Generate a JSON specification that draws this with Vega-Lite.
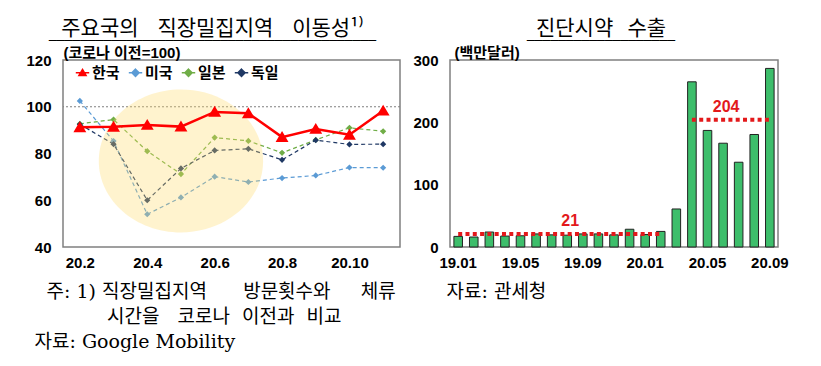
{
  "$schema": "https://vega.github.io/schema/vega-lite/v6.json",
  "background": "white",
  "padding": {"left": 25, "top": 17, "right": 5, "bottom": 5},
  "bounds": "flush",
  "spacing": 50,
  "config": {
    "font": "Liberation Sans, Noto Sans CJK KR",
    "view": {"stroke": "#808080", "strokeWidth": 1.5},
    "axis": {"grid": false, "ticks": false, "domain": false, "labelFont": "Liberation Sans, Noto Sans CJK KR", "labelFontSize": 15, "labelFontWeight": "bold", "labelColor": "#000000", "titleColor": "#000000"},
    "axisX": {"labelPadding": 8, "labelAngle": 0},
    "axisY": {"labelPadding": 12},
    "title": {"font": "Noto Sans CJK KR", "fontSize": 21, "fontWeight": "normal", "color": "#000000", "anchor": "middle", "offset": 0, "subtitleFont": "Liberation Sans", "subtitleFontSize": 14, "subtitleColor": "#000000", "subtitlePadding": -12}
  },
  "hconcat": [
    {
      "width": 337,
      "height": 187,
      "title": {"text": "주요국의\u00a0\u00a0\u00a0\u00a0직장밀집지역\u00a0\u00a0\u00a0\u00a0이동성¹⁾", "subtitle": "__________________________________________", "dx": -19},
      "data": {"values": [
        {"month": "20.2", "country": "한국", "value": 91.2}, {"month": "20.3", "country": "한국", "value": 91.4}, {"month": "20.4", "country": "한국", "value": 92.2}, {"month": "20.5", "country": "한국", "value": 91.5}, {"month": "20.6", "country": "한국", "value": 97.8}, {"month": "20.7", "country": "한국", "value": 97.2}, {"month": "20.8", "country": "한국", "value": 87.0}, {"month": "20.9", "country": "한국", "value": 90.5}, {"month": "20.10", "country": "한국", "value": 88.0}, {"month": "20.11", "country": "한국", "value": 98.3},
        {"month": "20.2", "country": "미국", "value": 102.5}, {"month": "20.3", "country": "미국", "value": 85.3}, {"month": "20.4", "country": "미국", "value": 54.0}, {"month": "20.5", "country": "미국", "value": 61.2}, {"month": "20.6", "country": "미국", "value": 70.1}, {"month": "20.7", "country": "미국", "value": 67.8}, {"month": "20.8", "country": "미국", "value": 69.5}, {"month": "20.9", "country": "미국", "value": 70.6}, {"month": "20.10", "country": "미국", "value": 74.0}, {"month": "20.11", "country": "미국", "value": 73.9},
        {"month": "20.2", "country": "일본", "value": 92.7}, {"month": "20.3", "country": "일본", "value": 94.5}, {"month": "20.4", "country": "일본", "value": 81.0}, {"month": "20.5", "country": "일본", "value": 71.2}, {"month": "20.6", "country": "일본", "value": 86.8}, {"month": "20.7", "country": "일본", "value": 85.4}, {"month": "20.8", "country": "일본", "value": 80.3}, {"month": "20.9", "country": "일본", "value": 85.8}, {"month": "20.10", "country": "일본", "value": 91.0}, {"month": "20.11", "country": "일본", "value": 89.5},
        {"month": "20.2", "country": "독일", "value": 92.5}, {"month": "20.3", "country": "독일", "value": 84.0}, {"month": "20.4", "country": "독일", "value": 60.0}, {"month": "20.5", "country": "독일", "value": 73.6}, {"month": "20.6", "country": "독일", "value": 81.3}, {"month": "20.7", "country": "독일", "value": 82.0}, {"month": "20.8", "country": "독일", "value": 77.3}, {"month": "20.9", "country": "독일", "value": 85.7}, {"month": "20.10", "country": "독일", "value": 83.9}, {"month": "20.11", "country": "독일", "value": 84.0}
      ]},
      "layer": [
        {
          "transform": [{"filter": "datum.country !== '한국'"}],
          "mark": {"type": "line", "strokeDash": [4, 3], "strokeWidth": 1.2},
          "encoding": {
            "x": {"field": "month", "type": "ordinal", "sort": ["20.2","20.3","20.4","20.5","20.6","20.7","20.8","20.9","20.10","20.11"], "scale": {"type": "point", "padding": 0.5},
                  "axis": {"values": ["20.2","20.4","20.6","20.8","20.10"],
                           "title": ["\u200b\u00a0\u00a0주:\u00a01)\u00a0직장밀집지역\u00a0\u00a0\u00a0\u00a0\u00a0\u00a0방문횟수와\u00a0\u00a0\u00a0\u00a0\u00a0체류", "\u200b\u00a0\u00a0\u00a0\u00a0\u00a0\u00a0\u00a0\u00a0\u00a0\u00a0\u00a0\u00a0시간을\u00a0\u00a0\u00a0코로나\u00a0\u00a0이전과\u00a0\u00a0비교", "자료: Google Mobility"],
                           "titleFont": "DejaVu Serif, Noto Sans CJK KR", "titleFontSize": 19, "titleFontWeight": "normal", "titleAnchor": "start", "titleAlign": "left", "titleX": -29, "titleY": 35, "titleBaseline": "top", "titleLineHeight": 25}},
            "y": {"field": "value", "type": "quantitative", "scale": {"domain": [40, 120], "nice": false, "zero": false},
                  "axis": {"values": [40, 60, 80, 100, 120], "title": "(코로나 이전=100)", "titleAngle": 0, "titleAlign": "left", "titleX": 0, "titleY": 0, "titleBaseline": "bottom", "titleFont": "Liberation Sans, Noto Sans CJK KR", "titleFontSize": 15, "titleFontWeight": "bold"}},
            "color": {"field": "country", "type": "nominal", "scale": {"domain": ["한국", "미국", "일본", "독일"], "range": ["#FF0000", "#5B9BD5", "#70AD47", "#1F3864"]},
                      "legend": {"orient": "none", "legendX": 12, "legendY": 5, "direction": "horizontal", "title": null, "labelFont": "Noto Sans CJK KR", "labelFontSize": 15, "labelFontWeight": "bold", "labelColor": "#000000", "symbolSize": 80, "labelOffset": 2, "columnPadding": 5, "symbolStrokeWidth": 1.5, "symbolDash": [],
                                 "encode": {"symbols": {"update": {"stroke": {"scale": "color", "field": "value"}}}}}}
          }
        },
        {
          "data": {"values": [{"ref": 100}]},
          "mark": {"type": "rule", "color": "#7f7f7f", "strokeDash": [2, 2], "strokeWidth": 1},
          "encoding": {"y": {"field": "ref", "type": "quantitative", "scale": {"domain": [40, 120], "nice": false, "zero": false}}}
        },
        {
          "transform": [{"filter": "datum.country !== '한국'"}],
          "mark": {"type": "point", "filled": true, "size": 60, "opacity": 1},
          "encoding": {
            "x": {"field": "month", "type": "ordinal", "sort": ["20.2","20.3","20.4","20.5","20.6","20.7","20.8","20.9","20.10","20.11"], "scale": {"type": "point", "padding": 0.5}},
            "y": {"field": "value", "type": "quantitative", "scale": {"domain": [40, 120], "nice": false, "zero": false}},
            "color": {"field": "country", "type": "nominal", "scale": {"domain": ["한국", "미국", "일본", "독일"], "range": ["#FF0000", "#5B9BD5", "#70AD47", "#1F3864"]}},
            "shape": {"field": "country", "type": "nominal", "scale": {"domain": ["한국", "미국", "일본", "독일"], "range": ["M-1.5,0L1.5,0M0,-0.75L0.8,0.6L-0.8,0.6Z", "M-1.5,0L1.5,0M0,-0.8L0.8,0L0,0.8L-0.8,0Z", "M-1.5,0L1.5,0M0,-0.8L0.8,0L0,0.8L-0.8,0Z", "M-1.5,0L1.5,0M0,-0.8L0.8,0L0,0.8L-0.8,0Z"]}}
          }
        },
        {
          "data": {"values": [{"month": "20.5", "value": 76.8}]},
          "mark": {"type": "point", "filled": true, "shape": "M-1,0A1,0.87,0,1,0,1,0A1,0.87,0,1,0,-1,0Z", "size": 27000, "color": "#FFD966", "opacity": 0.32},
          "encoding": {
            "x": {"field": "month", "type": "ordinal", "sort": ["20.2","20.3","20.4","20.5","20.6","20.7","20.8","20.9","20.10","20.11"], "scale": {"type": "point", "padding": 0.5}},
            "y": {"field": "value", "type": "quantitative", "scale": {"domain": [40, 120], "nice": false, "zero": false}}
          }
        },
        {
          "transform": [{"filter": "datum.country === '한국'"}],
          "mark": {"type": "line", "strokeWidth": 2.5},
          "encoding": {
            "x": {"field": "month", "type": "ordinal", "sort": ["20.2","20.3","20.4","20.5","20.6","20.7","20.8","20.9","20.10","20.11"], "scale": {"type": "point", "padding": 0.5}},
            "y": {"field": "value", "type": "quantitative", "scale": {"domain": [40, 120], "nice": false, "zero": false}},
            "color": {"field": "country", "type": "nominal", "scale": {"domain": ["한국", "미국", "일본", "독일"], "range": ["#FF0000", "#5B9BD5", "#70AD47", "#1F3864"]}}
          }
        },
        {
          "transform": [{"filter": "datum.country === '한국'"}],
          "mark": {"type": "point", "filled": true, "size": 260, "opacity": 1},
          "encoding": {
            "x": {"field": "month", "type": "ordinal", "sort": ["20.2","20.3","20.4","20.5","20.6","20.7","20.8","20.9","20.10","20.11"], "scale": {"type": "point", "padding": 0.5}},
            "y": {"field": "value", "type": "quantitative", "scale": {"domain": [40, 120], "nice": false, "zero": false}},
            "color": {"field": "country", "type": "nominal", "scale": {"domain": ["한국", "미국", "일본", "독일"], "range": ["#FF0000", "#5B9BD5", "#70AD47", "#1F3864"]}},
            "shape": {"field": "country", "type": "nominal", "scale": {"domain": ["한국", "미국", "일본", "독일"], "range": ["M-1.5,0L1.5,0M0,-0.75L0.8,0.6L-0.8,0.6Z", "M-1.5,0L1.5,0M0,-0.8L0.8,0L0,0.8L-0.8,0Z", "M-1.5,0L1.5,0M0,-0.8L0.8,0L0,0.8L-0.8,0Z", "M-1.5,0L1.5,0M0,-0.8L0.8,0L0,0.8L-0.8,0Z"]}}
          }
        }
      ]
    },
    {
      "width": 328,
      "height": 187,
      "title": {"text": "진단시약\u00a0\u00a0\u00a0수출", "subtitle": "___________________", "dx": -13},
      "layer": [
        {
          "data": {"values": [
            {"month": "19.01", "export": 17}, {"month": "19.02", "export": 16}, {"month": "19.03", "export": 24}, {"month": "19.04", "export": 17.5}, {"month": "19.05", "export": 18}, {"month": "19.06", "export": 21}, {"month": "19.07", "export": 19.5}, {"month": "19.08", "export": 19}, {"month": "19.09", "export": 21}, {"month": "19.10", "export": 21}, {"month": "19.11", "export": 19.5}, {"month": "19.12", "export": 28.5},
            {"month": "20.01", "export": 20}, {"month": "20.02", "export": 25}, {"month": "20.03", "export": 61}, {"month": "20.04", "export": 265}, {"month": "20.05", "export": 187}, {"month": "20.06", "export": 166.5}, {"month": "20.07", "export": 136}, {"month": "20.08", "export": 180.5}, {"month": "20.09", "export": 286.5}
          ]},
          "mark": {"type": "bar", "fill": "#3DBE6B", "stroke": "#222222", "strokeWidth": 1},
          "encoding": {
            "x": {"field": "month", "type": "ordinal", "sort": null, "scale": {"paddingInner": 0.45, "paddingOuter": 0.25},
                  "axis": {"values": ["19.01","19.05","19.09","20.01","20.05","20.09"], "title": "자료: 관세청",
                           "titleFont": "DejaVu Serif, Noto Sans CJK KR", "titleFontSize": 19, "titleFontWeight": "normal", "titleAnchor": "start", "titleAlign": "left", "titleX": -4, "titleY": 35, "titleBaseline": "top"}},
            "y": {"field": "export", "type": "quantitative", "scale": {"domain": [0, 300], "nice": false},
                  "axis": {"values": [0, 50, 100, 150, 200, 250, 300], "title": "(백만달러)", "titleAngle": 0, "titleAlign": "left", "titleX": 4, "titleY": 0, "titleBaseline": "bottom", "titleFont": "Liberation Sans, Noto Sans CJK KR", "titleFontSize": 15, "titleFontWeight": "bold"}}
          }
        },
        {
          "data": {"values": [{"start": "19.01", "end": "20.02", "avg": 21}, {"start": "20.04", "end": "20.09", "avg": 204}]},
          "mark": {"type": "rule", "color": "#E3191B", "strokeWidth": 4, "strokeDash": [4, 3.3]},
          "encoding": {
            "x": {"field": "start", "type": "ordinal"},
            "x2": {"field": "end"},
            "y": {"field": "avg", "type": "quantitative"}
          }
        },
        {
          "data": {"values": [{"at": "19.08", "avg": 21, "label": "21"}, {"at": "20.06", "avg": 204, "label": "204"}]},
          "mark": {"type": "text", "color": "#E3191B", "font": "Liberation Sans", "fontSize": 16, "fontWeight": "bold", "baseline": "bottom", "dy": -5, "dx": 3},
          "encoding": {
            "x": {"field": "at", "type": "ordinal"},
            "y": {"field": "avg", "type": "quantitative"},
            "text": {"field": "label"}
          }
        }
      ]
    }
  ]
}
